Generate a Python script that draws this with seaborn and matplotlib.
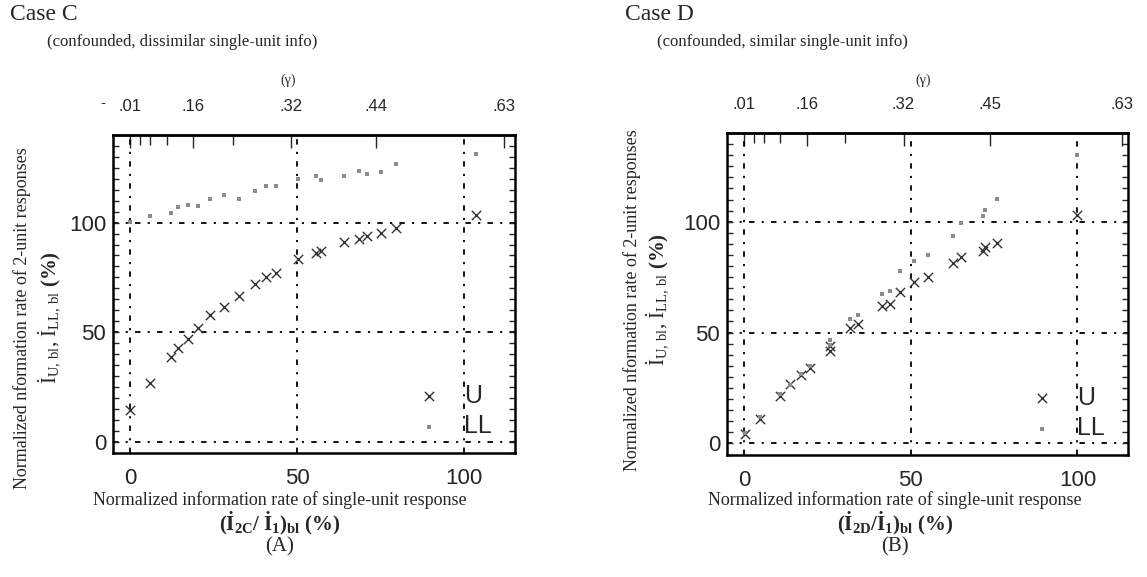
import numpy as np
import pandas as pd
import matplotlib
matplotlib.use("Agg")
import matplotlib.pyplot as plt
from matplotlib.ticker import MultipleLocator
import seaborn as sns

# ---- data ----
# Case C (confounded, dissimilar single-unit info)
c_x = [0, 6, 12.2, 14.3, 17.4, 20.2, 24, 27.9, 32.6, 37.3, 40.5, 43.7,
       50.2, 55.7, 57.2, 64, 68.5, 70.8, 75.1, 79.6, 103.5]
c_u = [14.6, 26.6, 38.8, 42.7, 46.8, 51.7, 58, 61.4, 66.7, 72.1, 75.2, 77.2,
       83.2, 86.2, 87.1, 91, 92.5, 94, 95.1, 97.4, 103.5]
c_ll = [100.5, 102.8, 104.6, 106.9, 107.9, 107.4, 110.8, 112.7, 110.8, 114.6, 116.6, 116.6,
        119.7, 121.2, 119.4, 121.5, 123.5, 122.4, 123.2, 126.6, 131.5]

# Case D (confounded, similar single-unit info)
d_x = [0.3, 4.8, 10.8, 13.6, 17, 19.7, 25.8, 25.8, 31.8, 34.1, 41.2, 43.8,
       46.6, 50.8, 55.1, 62.6, 65.1, 71.6, 72.3, 76, 100]
d_u = [4.2, 11.2, 21.2, 26.6, 30.9, 33.9, 41.8, 44, 52.2, 54, 61.9, 63,
       68.3, 72.7, 75.1, 81.3, 83.9, 86.9, 88.5, 90.6, 103]
d_ll = [4.5, 11.9, 22.4, 26.3, 31.5, 35, 44.5, 46.6, 56, 57.9, 67.4, 68.7,
        77.9, 82.4, 84.8, 93.6, 99.2, 102.5, 105.2, 110.2, 129.9]

# top (gamma) axis
c_gamma_labels = [".01", ".16", ".32", ".44", ".63"]
c_gamma_pos = [0, 18.9, 48, 73.6, 111.8]
c_gamma_minor = [3, 6, 11, 30.8]
d_gamma_labels = [".01", ".16", ".32", ".45", ".63"]
d_gamma_pos = [0, 18.8, 47.8, 73.8, 113.5]
d_gamma_minor = [2.8, 5.8, 10.8, 30.3]

grid_vals = [0, 50, 100]

sns.set_style("white")
plt.rcParams["font.family"] = ["Liberation Sans", "DejaVu Sans"]
plt.rcParams["mathtext.fontset"] = "custom"
plt.rcParams["mathtext.rm"] = "Liberation Serif"
plt.rcParams["mathtext.it"] = "Liberation Serif:italic"
plt.rcParams["mathtext.bf"] = "Liberation Serif:bold"

W, H = 1147, 577
fig = plt.figure(figsize=(W / 100, H / 100), dpi=100)
fig.patch.set_facecolor("white")


def fx(px):
    return px / W


def fy(py):
    return 1 - py / H


serif = ["Liberation Serif", "DejaVu Serif"]


def panel(rect, xs, us, lls, gpos, glabels, gminor):
    ax = fig.add_axes(rect)
    df_u = pd.DataFrame({"x": xs, "y": us})
    df_ll = pd.DataFrame({"x": xs, "y": lls})
    sns.scatterplot(data=df_u, x="x", y="y", marker="x", s=45, color="#333333",
                    linewidth=1.0, label="U", ax=ax, zorder=3)
    sns.scatterplot(data=df_ll, x="x", y="y", marker="s", s=8, color="#8c8c8c",
                    linewidth=0, label="LL", ax=ax, zorder=3)
    ax.set_xlim(-5.2, 115.2)
    ax.set_ylim(-5.2, 140)
    ax.set_xticks(grid_vals)
    ax.set_yticks(grid_vals)
    ax.yaxis.set_minor_locator(MultipleLocator(5))
    ax.grid(True, color="black", linestyle=(0, (3, 4, 1.2, 4)), linewidth=1.3)
    ax.set_xlabel("")
    ax.set_ylabel("")
    for sp in ax.spines.values():
        sp.set_linewidth(1.8)
        sp.set_color("black")
    ax.tick_params(axis="x", which="both", length=0, pad=11, labelsize=16)
    ax.tick_params(axis="y", which="both", direction="in", left=True, right=True,
                   length=4, width=1, pad=5, labelsize=16)
    sec = ax.secondary_xaxis("top")
    sec.set_xticks(gpos, glabels)
    sec.set_xticks(gminor, minor=True)
    sec.tick_params(which="major", direction="in", length=9, width=1, pad=15,
                    labelsize=12)
    sec.tick_params(which="minor", direction="in", length=7, width=1)
    sec.spines["top"].set_linewidth(1.8)
    ax.legend(loc="lower left", bbox_to_anchor=(0.73, 0.015), frameon=False,
              fontsize=18, handlelength=1.0, handletextpad=0.9, labelspacing=0.25,
              borderaxespad=0)
    return ax


ax_c = panel([fx(113), fy(453), fx(515) - fx(113), fy(135) - fy(453)],
             c_x, c_u, c_ll, c_gamma_pos, c_gamma_labels, c_gamma_minor)
ax_d = panel([fx(727), fy(455), fx(1128) - fx(727), fy(133) - fy(455)],
             d_x, d_u, d_ll, d_gamma_pos, d_gamma_labels, d_gamma_minor)

# titles and labels
fig.text(fx(10), fy(15), "Case C", family=serif, fontsize=17, va="center")
fig.text(fx(47), fy(42), "(confounded, dissimilar single-unit info)", family=serif,
         fontsize=12, va="center")
fig.text(fx(288), fy(80), "(\u03b3)", family=serif, fontsize=10, ha="center", va="center")
fig.text(fx(103), fy(103), "-", fontsize=11, ha="center", va="center")

fig.text(fx(625), fy(15), "Case D", family=serif, fontsize=17, va="center")
fig.text(fx(657), fy(42), "(confounded, similar single-unit info)", family=serif,
         fontsize=12, va="center")
fig.text(fx(923), fy(80), "(\u03b3)", family=serif, fontsize=10, ha="center", va="center")

ylab1 = "Normalized nformation rate of 2-unit responses"
ylab2 = r"$\dot{\mathrm{I}}_{\mathrm{U,\,bl}}$, $\dot{\mathrm{I}}_{\mathrm{LL,\,bl}}$ $\mathbf{(\%)}$"
for x1, x2, yc in [(22, 50, 318), (632, 658, 300)]:
    fig.text(fx(x1), fy(yc), ylab1, family=serif, fontsize=13, rotation=90,
             ha="center", va="center")
    fig.text(fx(x2), fy(yc), ylab2, family=serif, fontsize=15, rotation=90,
             ha="center", va="center")

xlab = "Normalized information rate of single-unit response"
xlab_c = r"$\mathbf{(\dot{I}_{2C}/\ \dot{I}_{1})_{bl}\ (\%)}$"
xlab_d = r"$\mathbf{(\dot{I}_{2D}/\dot{I}_{1})_{bl}\ (\%)}$"
for xc, sub, tag in [(280, xlab_c, "(A)"), (895, xlab_d, "(B)")]:
    fig.text(fx(xc), fy(500), xlab, family=serif, fontsize=13, ha="center", va="center")
    fig.text(fx(xc), fy(523), sub, family=serif, fontsize=15, ha="center", va="center")
    fig.text(fx(xc), fy(547), tag, family=serif, fontsize=15, ha="center", va="center")

fig.savefig("out.png", dpi=100, facecolor="white")
